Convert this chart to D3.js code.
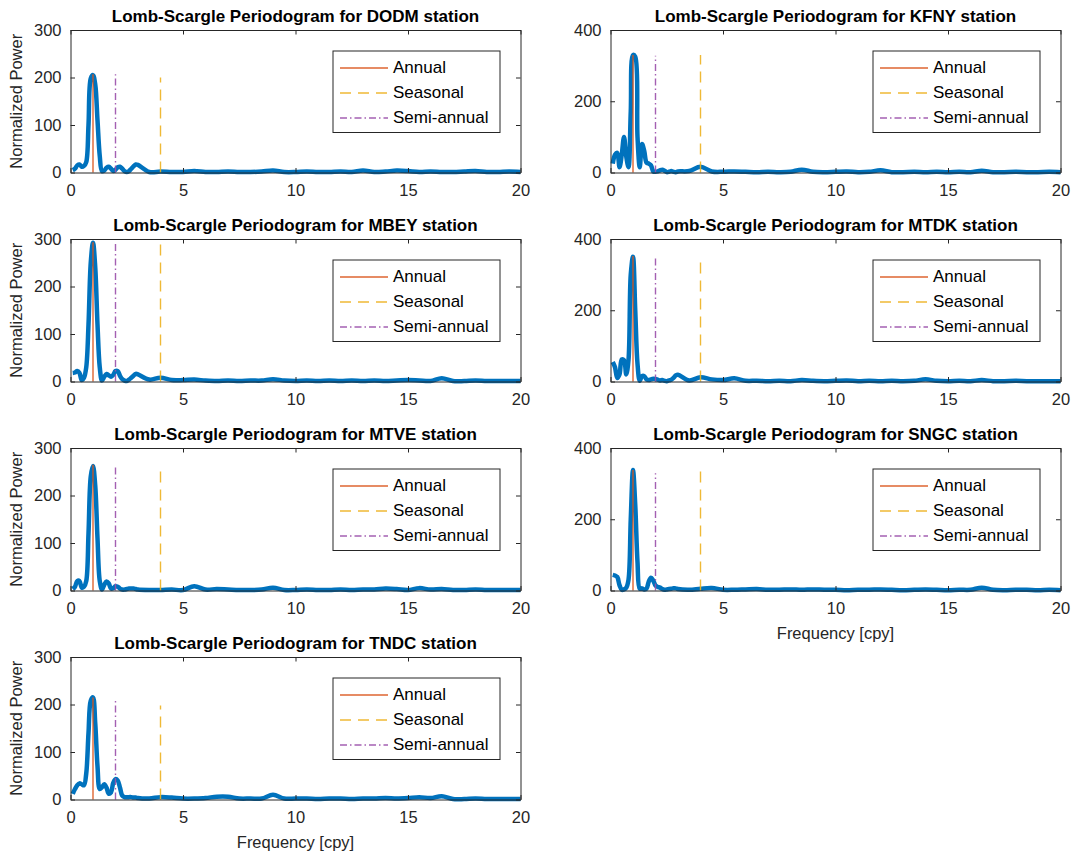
<!DOCTYPE html>
<html>
<head>
<meta charset="utf-8">
<script src="https://cdn.jsdelivr.net/npm/d3@7"></script>
<style>
  html, body { margin: 0; padding: 0; background: #fff; }
  svg { display: block; font-family: "Liberation Sans", Arial, Helvetica, sans-serif; }
</style>
</head>
<body>
<svg id="chart" width="1074" height="856"></svg>
<script>
// ---------- DATA ----------
const stations = ["DODM", "KFNY", "MBEY", "MTDK", "MTVE", "SNGC", "TNDC"];
const yMaxes = [300, 400, 300, 400, 300, 400, 300];
const ticks300 = [0, 100, 200, 300];
const ticks400 = [0, 200, 400];
const xTicks = [0, 5, 10, 15, 20];
const legendLabels = ["Annual", "Seasonal", "Semi-annual"];
const refFreqs = [1, 4, 2]; // annual, seasonal, semi-annual (cpy)

const freq = [0.1,0.2,0.3,0.4,0.5,0.6,0.7,0.8,0.9,1.0,1.1,1.2,1.3,1.4,1.5,1.6,1.7,1.8,1.9,2.0,
  2.1,2.2,2.3,2.4,2.5,2.6,2.7,2.8,2.9,3.0,3.5,4.0,4.5,5.0,5.5,6.0,6.5,7.0,7.5,8.0,8.5,9.0,9.5,
  10.0,10.5,11.0,11.5,12.0,12.5,13.0,13.5,14.0,14.5,15.0,15.5,16.0,16.5,17.0,17.5,18.0,18.5,
  19.0,19.5,20.0];

const powerDODM = [5,8,15,17,12,14,22,100,198,205,185,110,35,3,4,10,12,8,3,6,
  11,12,8,3,1,3,8,13,17,16,1,2,1,1,3,1,1,2,1,1,2,4,1,
  1,2,1,1,2,1,4,1,2,4,3,1,2,1,1,2,3,1,1,2,1];
const powerKFNY = [25,50,55,15,50,100,45,15,170,330,325,100,15,80,60,28,25,20,3,2,
  3,6,8,5,1,2,4,2,1,3,4,16,3,2,3,2,1,2,1,2,8,2,1,
  2,3,1,2,6,1,1,2,1,2,1,2,1,5,1,1,2,1,1,2,1];
const powerMBEY = [18,19,22,18,3,8,30,120,250,292,240,120,30,2,10,16,13,10,14,22,
  22,12,5,2,1,4,8,12,16,15,4,8,3,3,4,2,1,2,1,2,2,5,2,
  1,2,1,2,1,2,1,2,1,2,3,2,1,7,1,1,2,1,1,1,1];
const powerMTDK = [55,40,10,20,62,60,20,60,300,350,200,50,2,15,15,6,4,6,8,7,
  5,3,4,2,1,3,5,10,17,19,3,12,6,4,9,2,2,1,2,1,4,2,1,
  2,3,1,2,1,2,1,2,6,2,1,2,1,4,1,1,2,1,1,1,1];
const powerMTVE = [3,8,20,20,6,8,20,120,240,262,220,110,20,2,12,19,15,4,5,9,
  8,4,2,2,3,4,4,4,3,2,1,1,2,1,9,2,3,2,1,1,2,6,1,
  1,2,1,1,2,1,2,2,4,3,1,5,2,3,1,1,2,1,1,1,1];
const powerSNGC = [44,42,38,15,2,3,8,30,200,338,240,80,5,6,3,5,25,36,28,14,
  10,8,4,2,3,4,5,6,6,4,2,5,7,2,2,3,4,2,2,3,2,3,2,
  2,1,2,2,3,2,1,2,3,2,1,2,2,8,2,1,2,2,1,2,1];
const powerTNDC = [12,22,30,34,32,30,55,140,208,215,160,70,22,26,32,25,12,15,35,43,
  40,25,8,5,5,5,5,4,4,3,2,5,4,2,2,3,6,6,2,2,2,10,2,
  2,2,1,2,2,1,2,2,3,2,3,5,3,7,1,1,2,1,1,1,1];
const powers = [powerDODM, powerKFNY, powerMBEY, powerMTDK, powerMTVE, powerSNGC, powerTNDC];

// heights of the reference lines: [annual, seasonal, semi-annual]
const refHeights = [
  [207, 200, 207],
  [330, 330, 328],
  [293, 290, 293],
  [352, 338, 349],
  [265, 253, 262],
  [338, 335, 329],
  [215, 198, 208]
];

// ---------- STYLE / LAYOUT ----------
const colX = [70.5, 610.5];
const rowY = [30, 239, 448, 657];
const W = 450, H = 142.5;
const axisColor = "#262626";
const blue = "#0072BD";
const refStyles = [
  { color: "#D95319", dash: null },
  { color: "#EDB120", dash: "11,7" },
  { color: "#9A4FAA", dash: "7,3,1.5,3" }
];

const svg = d3.select("#chart");

stations.forEach((st, i) => {
  const col = i % 2, row = Math.floor(i / 2);
  const x0 = colX[col], y0 = rowY[row];
  const g = svg.append("g").attr("transform", `translate(${x0},${y0})`);
  const x = d3.scaleLinear().domain([0, 20]).range([0, W]);
  const y = d3.scaleLinear().domain([0, yMaxes[i]]).range([H, 0]);
  const yt = yMaxes[i] === 300 ? ticks300 : ticks400;

  // data line
  const data = freq.map((f, k) => [f, powers[i][k]]);
  const line = d3.line().x(d => x(d[0])).y(d => y(d[1])).curve(d3.curveCatmullRom.alpha(0.5));
  g.append("path").datum(data)
    .attr("d", line)
    .attr("fill", "none")
    .attr("stroke", blue)
    .attr("stroke-width", 4.5)
    .attr("stroke-linejoin", "round");

  // reference lines
  refFreqs.forEach((rf, j) => {
    const s = refStyles[j];
    g.append("line")
      .attr("x1", x(rf)).attr("x2", x(rf))
      .attr("y1", y(0)).attr("y2", y(refHeights[i][j]))
      .attr("stroke", s.color)
      .attr("stroke-opacity", 0.9)
      .attr("stroke-width", 1.4)
      .attr("stroke-dasharray", s.dash);
  });

  // axes (box with inward ticks)
  const bottom = d3.axisBottom(x).tickValues(xTicks).tickSizeInner(-4.5).tickSizeOuter(0).tickPadding(12).tickFormat(d3.format("d"));
  const top = d3.axisTop(x).tickValues(xTicks).tickSizeInner(-4.5).tickSizeOuter(0).tickFormat("");
  const left = d3.axisLeft(y).tickValues(yt).tickSizeInner(-4.5).tickSizeOuter(0).tickPadding(9).tickFormat(d3.format("d"));
  const right = d3.axisRight(y).tickValues(yt).tickSizeInner(-4.5).tickSizeOuter(0).tickFormat("");

  const styleAxis = sel => {
    sel.selectAll("path").attr("stroke", axisColor).attr("stroke-width", 1);
    sel.selectAll("line").attr("stroke", axisColor).attr("stroke-width", 1);
    sel.selectAll("text").attr("fill", axisColor).style("font-size", "16.5px")
      .style("font-family", '"Liberation Sans", Arial, sans-serif');
  };
  g.append("g").attr("transform", `translate(0,${H})`).call(bottom).call(styleAxis);
  g.append("g").call(top).call(styleAxis);
  g.append("g").call(left).call(styleAxis);
  g.append("g").attr("transform", `translate(${W},0)`).call(right).call(styleAxis);

  // title
  g.append("text")
    .attr("x", W / 2).attr("y", -8)
    .attr("text-anchor", "middle")
    .style("font-size", "17px").style("font-weight", "bold")
    .attr("fill", "#000")
    .text(`Lomb-Scargle Periodogram for ${st} station`);

  // y label
  if (col === 0) {
    g.append("text")
      .attr("transform", `translate(${18 - x0},${H / 2}) rotate(-90)`)
      .attr("text-anchor", "middle")
      .attr("dominant-baseline", "middle")
      .style("font-size", "16.5px")
      .attr("fill", axisColor)
      .text("Normalized Power");
  }
  // x label
  if (i === 5 || i === 6) {
    g.append("text")
      .attr("x", W / 2).attr("y", H + 44)
      .attr("text-anchor", "middle")
      .attr("dominant-baseline", "middle")
      .style("font-size", "16.5px")
      .attr("fill", axisColor)
      .text("Frequency [cpy]");
  }

  // legend
  const lx = W - 187.5, ly = 21, lw = 167, lh = 81.5;
  const lg = g.append("g").attr("transform", `translate(${lx},${ly})`);
  lg.append("rect").attr("width", lw).attr("height", lh)
    .attr("fill", "#fff").attr("stroke", axisColor).attr("stroke-width", 1);
  legendLabels.forEach((lab, j) => {
    const s = refStyles[j];
    const cy = 17 + j * 25;
    lg.append("line")
      .attr("x1", 7).attr("x2", 55).attr("y1", cy).attr("y2", cy)
      .attr("stroke", s.color).attr("stroke-opacity", 0.9)
      .attr("stroke-width", 1.4).attr("stroke-dasharray", s.dash);
    lg.append("text")
      .attr("x", 60).attr("y", cy + 1)
      .attr("dominant-baseline", "middle")
      .style("font-size", "17px")
      .attr("fill", "#000")
      .text(lab);
  });
});
</script>
</body>
</html>
